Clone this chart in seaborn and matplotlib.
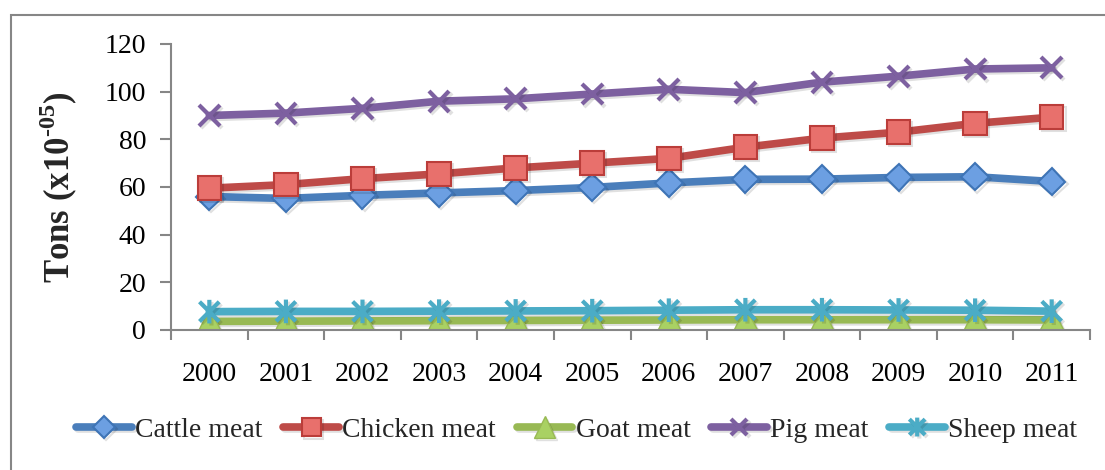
import matplotlib
matplotlib.use("Agg")
import matplotlib.pyplot as plt
import matplotlib.patheffects as pe
from matplotlib.path import Path
from matplotlib.patches import Rectangle
import numpy as np
import pandas as pd
import seaborn as sns

# Meat production, tons (x10^-05)
years = ["2000", "2001", "2002", "2003", "2004", "2005",
         "2006", "2007", "2008", "2009", "2010", "2011"]
cattle_meat = [56.0, 55.2, 56.5, 57.5, 58.5, 59.8, 61.7, 63.2, 63.3, 64.0, 64.3, 62.3]
chicken_meat = [59.5, 61.0, 63.5, 65.5, 68.0, 70.0, 72.0, 76.7, 80.5, 83.0, 86.7, 89.3]
goat_meat = [3.6, 3.7, 3.8, 3.9, 4.0, 4.1, 4.2, 4.3, 4.3, 4.3, 4.3, 4.2]
pig_meat = [90.0, 91.0, 93.0, 96.0, 97.0, 99.0, 101.0, 99.6, 104.0, 106.5, 109.5, 110.0]
sheep_meat = [7.7, 7.8, 7.8, 7.9, 8.0, 8.1, 8.3, 8.5, 8.5, 8.4, 8.3, 7.9]
series_names = ["Cattle meat", "Chicken meat", "Goat meat", "Pig meat", "Sheep meat"]
y_ticks = [0, 20, 40, 60, 80, 100, 120]

sns.set_theme(style="white")
plt.rcParams["font.family"] = ["Liberation Serif", "DejaVu Serif"]
plt.rcParams["mathtext.fontset"] = "custom"
plt.rcParams["mathtext.rm"] = "Liberation Serif:bold"
plt.rcParams["mathtext.bf"] = "Liberation Serif:bold"

df = pd.DataFrame({
    "year": years * 5,
    "pos": list(range(len(years))) * 5,
    "value": cattle_meat + chicken_meat + goat_meat + pig_meat + sheep_meat,
    "series": sum([[n] * len(years) for n in series_names], []),
})

# Asterisk marker: an X crossed by a vertical stroke
star_path = Path(
    [(-0.5, -0.5), (0.5, 0.5), (-0.5, 0.5), (0.5, -0.5), (0.0, -0.6), (0.0, 0.6)],
    [Path.MOVETO, Path.LINETO, Path.MOVETO, Path.LINETO, Path.MOVETO, Path.LINETO],
)

styles = {
    "Cattle meat": dict(color="#4a7ebb", marker="D", markersize=14,
                        markerfacecolor="#6c9fe2", markeredgecolor="#3e74b6",
                        markeredgewidth=1.5),
    "Chicken meat": dict(color="#be4b48", marker="s", markersize=17,
                         markerfacecolor="#e8706c", markeredgecolor="#bb3d3a",
                         markeredgewidth=1.5),
    "Goat meat": dict(color="#98b954", marker="^", markersize=19,
                      markerfacecolor="#a9d163", markeredgecolor="#98b954",
                      markeredgewidth=1.0),
    "Pig meat": dict(color="#7d60a0", marker="x", markersize=15,
                     markeredgecolor="#7d60a0", markeredgewidth=3),
    "Sheep meat": dict(color="#4bacc6", marker=star_path, markersize=17,
                       markeredgecolor="#4bacc6", markeredgewidth=3),
}

fig = plt.figure(figsize=(11.05, 4.7), dpi=100)
ax = fig.add_axes([0.1548, 0.2979, 0.9864 - 0.1548, 0.9064 - 0.2979])

shadow = [pe.SimpleLineShadow(offset=(1.5, -1.5), alpha=0.12, shadow_color="black"),
          pe.Normal()]

for name in series_names:
    sub = df[df["series"] == name]
    sns.lineplot(data=sub, x="pos", y="value", ax=ax, label=name,
                 linewidth=5.5, solid_capstyle="round", solid_joinstyle="round",
                 path_effects=shadow, **styles[name])

ax.set_xlim(-0.5, len(years) - 0.5)
ax.set_ylim(0, 120)
ax.set_yticks(y_ticks)
ax.set_yticklabels([str(t) for t in y_ticks])
ax.set_xticks(range(len(years)))
ax.set_xticklabels(years)
ax.set_xticks(np.arange(-0.5, len(years), 1.0), minor=True)
ax.tick_params(axis="x", which="major", length=0, pad=23, labelsize=20, colors="black")
ax.tick_params(axis="x", which="minor", length=7, width=1.5, color="#868686",
               direction="out", bottom=True)
ax.tick_params(axis="y", which="major", length=8, width=1.5, color="#868686",
               direction="out", left=True, pad=10, labelsize=20, labelcolor="black")
ax.set_xlabel("")
ax.set_ylabel(r"Tons (x10$^{\text{-05}}$)", fontsize=25, fontweight="bold")
ax.yaxis.set_label_coords(-0.099, 0.5)

for side in ["top", "right"]:
    ax.spines[side].set_visible(False)
for side in ["left", "bottom"]:
    ax.spines[side].set_color("#868686")
    ax.spines[side].set_linewidth(1.5)
ax.grid(False)

handles, labels = ax.get_legend_handles_labels()
ax.legend_.remove()
fig.legend(handles, labels, loc="center", bbox_to_anchor=(0.522, 0.085), ncol=5,
           frameon=False, fontsize=20, handlelength=2.0, handletextpad=0.12,
           columnspacing=0.75, borderaxespad=0, markerscale=0.8)

# Chart area border
fig.patches.append(Rectangle((11 / 1105, -0.1), 1.2, 1.1 - 15 / 470,
                             transform=fig.transFigure, fill=False,
                             edgecolor="#868686", linewidth=1.5, zorder=0))

fig.savefig("out.png", dpi=100)
